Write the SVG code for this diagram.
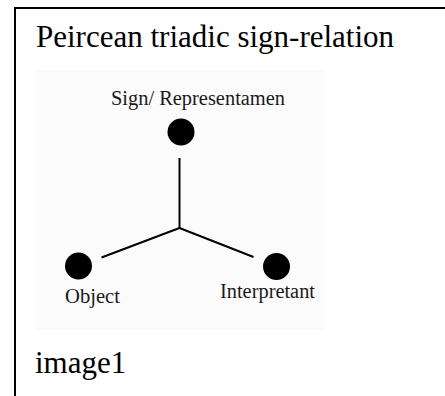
<svg xmlns="http://www.w3.org/2000/svg" width="445" height="396" viewBox="0 0 445 396">
<style>
.frame{stroke:#000;stroke-width:2;fill:none}
.big{font-family:"Liberation Serif","Times New Roman",serif;font-size:31px;fill:#000}
.lbl{font-family:"Liberation Serif","Times New Roman",serif;font-size:20.5px;fill:#1a1a1a}
.dot{fill:#000}
.edge{stroke:#000;stroke-width:2;fill:none}
</style>
<rect width="445" height="396" fill="#fff"/>
<path class="frame" d="M15,396 V8 H445"/>
<text class="big" x="36" y="47">Peircean triadic sign-relation</text>
<rect x="35" y="70" width="290" height="260" fill="#fbfbfb"/>
<g id="connectors">
<line class="edge" x1="179.5" y1="158" x2="179.5" y2="228"/>
<line class="edge" x1="179.5" y1="228" x2="101.5" y2="257.5"/>
<line class="edge" x1="179.5" y1="228" x2="253.5" y2="257"/>
</g>
<g id="sign">
<circle class="dot" cx="181" cy="132" r="13.5"/>
<text class="lbl" x="111" y="105" textLength="174" lengthAdjust="spacingAndGlyphs">Sign/ Representamen</text>
</g>
<g id="object">
<circle class="dot" cx="78.5" cy="266" r="13.5"/>
<text class="lbl" x="65" y="303" textLength="55" lengthAdjust="spacingAndGlyphs">Object</text>
</g>
<g id="interpretant">
<circle class="dot" cx="276.5" cy="266.5" r="13.5"/>
<text class="lbl" x="220" y="298" textLength="95" lengthAdjust="spacingAndGlyphs">Interpretant</text>
</g>
<text class="big" x="35" y="373">image1</text>
</svg>
